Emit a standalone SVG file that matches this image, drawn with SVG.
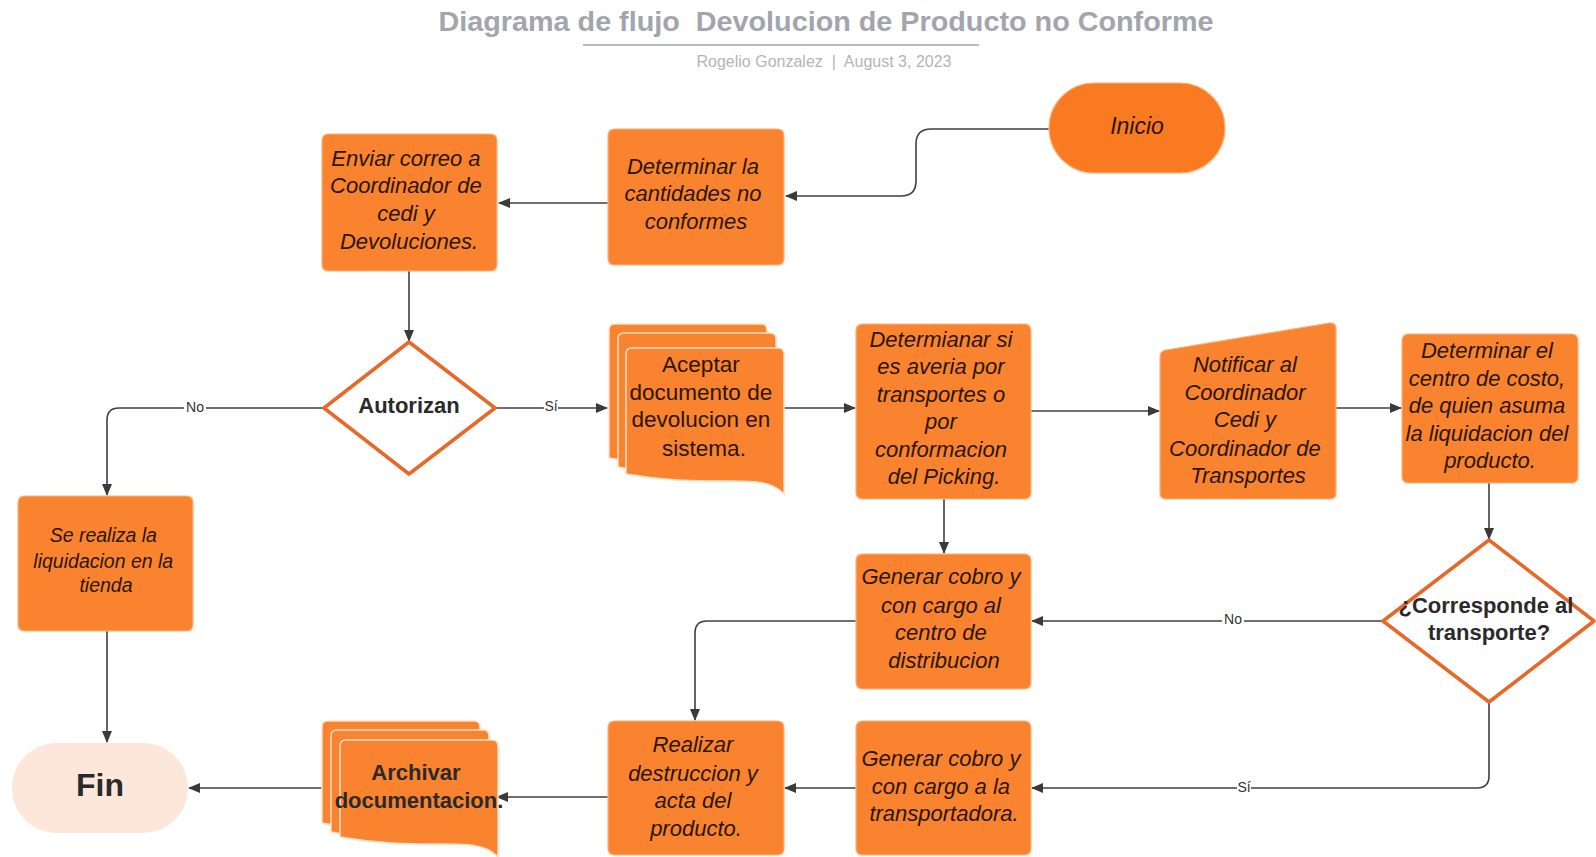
<svg xmlns="http://www.w3.org/2000/svg" width="1596" height="857" viewBox="0 0 1596 857">
  <defs>
    <marker id="arrow" markerWidth="12" markerHeight="10" refX="11" refY="5" orient="auto" markerUnits="userSpaceOnUse">
      <path d="M0,0 L12,5 L0,10 Z" fill="#3a3a3a"/>
    </marker>
    <style>
      .title { font-family: "Liberation Sans", Arial, sans-serif; font-weight: bold; font-size: 28px; fill: #a3a5ad; white-space: pre; }
      .sub { font-family: "Liberation Sans", Arial, sans-serif; font-size: 16px; fill: #b4b4b8; white-space: pre; }
      .box { fill: #f9832f; stroke: #fbb27c; stroke-width: 1.2; }
      .term { fill: #fa7a22; stroke: #fcb27e; stroke-width: 1.2; }
      .page { fill: #f9832f; stroke: #fde0c6; stroke-width: 1.5; }
      .dec { fill: #ffffff; stroke: #e8682a; stroke-width: 3.5; stroke-linejoin: round; }
      .it { font-family: "Liberation Sans", Arial, sans-serif; font-style: italic; font-size: 22px; fill: #2b1608; text-anchor: middle; dominant-baseline: central; }
      .it-s { font-size: 19.5px; }
      .rg { font-family: "Liberation Sans", Arial, sans-serif; font-size: 22.5px; fill: #2b1608; text-anchor: middle; dominant-baseline: central; }
      .bd { font-family: "Liberation Sans", Arial, sans-serif; font-weight: bold; font-size: 22px; fill: #2a2a2a; text-anchor: middle; dominant-baseline: central; }
      .conn { fill: none; stroke: #3f3f3f; stroke-width: 1.6; marker-end: url(#arrow); }
      .lbl { font-family: "Liberation Sans", Arial, sans-serif; font-size: 14px; fill: #333333; text-anchor: middle; dominant-baseline: central; }
      .lblbg { fill: #ffffff; }
    </style>
  </defs>

  <rect x="0" y="0" width="1596" height="857" fill="#ffffff"/>

  <!-- Heading -->
  <g id="heading">
    <text class="title" x="826" y="31" text-anchor="middle" xml:space="preserve" textLength="775" lengthAdjust="spacingAndGlyphs">Diagrama de flujo  Devolucion de Producto no Conforme</text>
    <line x1="583" y1="45" x2="979" y2="45" stroke="#b9babf" stroke-width="2"/>
    <text class="sub" x="824" y="67" text-anchor="middle" xml:space="preserve">Rogelio Gonzalez  |  August 3, 2023</text>
  </g>

  <!-- Connectors -->
  <g id="connectors">
    <path class="conn" d="M1049,129 H931 Q916,129 916,144 V181 Q916,196 901,196 H786"/>
    <path class="conn" d="M608,203 H499"/>
    <path class="conn" d="M409,271 V341"/>
    <path class="conn" d="M324,408 H119 Q107,408 107,420 V495"/>
    <path class="conn" d="M495,408 H607"/>
    <path class="conn" d="M784,408 H855"/>
    <path class="conn" d="M1031,411 H1159"/>
    <path class="conn" d="M1336,408 H1401"/>
    <path class="conn" d="M1489,483 V539"/>
    <path class="conn" d="M944,499 V553"/>
    <path class="conn" d="M1382,621 H1032"/>
    <path class="conn" d="M856,621 H707 Q695,621 695,633 V720"/>
    <path class="conn" d="M1489,702 V776 Q1489,788 1477,788 H1032"/>
    <path class="conn" d="M856,788 H785"/>
    <path class="conn" d="M608,797 H497"/>
    <path class="conn" d="M322,788 H189"/>
    <path class="conn" d="M107,631 V742"/>
    <!-- branch labels -->
    <rect class="lblbg" x="184" y="399" width="22" height="16"/>
    <text class="lbl" x="195" y="407">No</text>
    <rect class="lblbg" x="544" y="398" width="14" height="16"/>
    <text class="lbl" x="551" y="406">Sí</text>
    <rect class="lblbg" x="1222" y="611" width="22" height="16"/>
    <text class="lbl" x="1233" y="619">No</text>
    <rect class="lblbg" x="1237" y="779" width="14" height="16"/>
    <text class="lbl" x="1244" y="787">Sí</text>
  </g>

  <!-- Nodes -->
  <g id="inicio">
    <rect class="term" x="1049" y="83" width="176" height="90" rx="45"/>
    <text class="it" x="1137" y="126" style="font-size:23px">Inicio</text>
  </g>

  <g id="determinar-cantidades">
    <rect class="box" x="608" y="129" width="176" height="136" rx="6"/>
    <text class="it">
      <tspan x="696" y="166">Determinar la</tspan>
      <tspan x="696" y="193">cantidades no</tspan>
      <tspan x="696" y="221">conformes</tspan>
    </text>
  </g>

  <g id="enviar-correo">
    <rect class="box" x="322" y="134" width="175" height="137" rx="6"/>
    <text class="it">
      <tspan x="409" y="158">Enviar correo a</tspan>
      <tspan x="409" y="185">Coordinador de</tspan>
      <tspan x="409" y="213">cedi y</tspan>
      <tspan x="409" y="241">Devoluciones.</tspan>
    </text>
  </g>

  <g id="autorizan">
    <path class="dec" d="M409,342 L495,408 L409,474 L324,408 Z"/>
    <text class="bd" x="409" y="405">Autorizan</text>
  </g>

  <g id="aceptar-documento">
    <path class="page" d="M615,324 H761 Q767,324 767,330 V470 C745,452 700,476 609,458 V330 Q609,324 615,324 Z"/>
    <path class="page" d="M624,333 H770 Q776,333 776,339 V479 C754,461 709,485 618,467 V339 Q618,333 624,333 Z"/>
    <path class="page" d="M632,348 H778 Q784,348 784,354 V494 C762,470 717,490 626,474 V354 Q626,348 632,348 Z"/>
    <text class="rg">
      <tspan x="704" y="364">Aceptar</tspan>
      <tspan x="704" y="392">documento de</tspan>
      <tspan x="704" y="419">devolucion en</tspan>
      <tspan x="704" y="448">sistema.</tspan>
    </text>
  </g>

  <g id="determinar-averia">
    <rect class="box" x="856" y="324" width="175" height="175" rx="6"/>
    <text class="it">
      <tspan x="944" y="339">Determianar si</tspan>
      <tspan x="944" y="366">es averia por</tspan>
      <tspan x="944" y="394">transportes o</tspan>
      <tspan x="944" y="421">por</tspan>
      <tspan x="944" y="449">conformacion</tspan>
      <tspan x="944" y="476">del Picking.</tspan>
    </text>
  </g>

  <g id="notificar">
    <path class="box" d="M1160,356 Q1160,351 1166,350 L1329,323 Q1336,322 1336,329 V493 Q1336,499 1330,499 H1166 Q1160,499 1160,493 Z"/>
    <text class="it">
      <tspan x="1248" y="364">Notificar al</tspan>
      <tspan x="1248" y="392">Coordinador</tspan>
      <tspan x="1248" y="419">Cedi y</tspan>
      <tspan x="1248" y="448">Coordinador de</tspan>
      <tspan x="1248" y="475">Transportes</tspan>
    </text>
  </g>

  <g id="determinar-centro">
    <rect class="box" x="1402" y="334" width="176" height="149" rx="6"/>
    <text class="it">
      <tspan x="1490" y="350">Determinar el</tspan>
      <tspan x="1490" y="378">centro de costo,</tspan>
      <tspan x="1490" y="405">de quien asuma</tspan>
      <tspan x="1490" y="433">la liquidacion del</tspan>
      <tspan x="1490" y="460">producto.</tspan>
    </text>
  </g>

  <g id="corresponde">
    <path class="dec" d="M1489,540 L1594,621 L1489,702 L1383,621 Z"/>
    <text class="bd">
      <tspan x="1489" y="605">¿Corresponde al</tspan>
      <tspan x="1489" y="632">transporte?</tspan>
    </text>
  </g>

  <g id="cobro-cedi">
    <rect class="box" x="856" y="554" width="175" height="135" rx="6"/>
    <text class="it">
      <tspan x="944" y="576">Generar cobro y</tspan>
      <tspan x="944" y="605">con cargo al</tspan>
      <tspan x="944" y="632">centro de</tspan>
      <tspan x="944" y="660">distribucion</tspan>
    </text>
  </g>

  <g id="liquidacion-tienda">
    <rect class="box" x="18" y="496" width="175" height="135" rx="6"/>
    <text class="it it-s">
      <tspan x="106" y="535">Se realiza la</tspan>
      <tspan x="106" y="561">liquidacion en la</tspan>
      <tspan x="106" y="585">tienda</tspan>
    </text>
  </g>

  <g id="fin">
    <rect x="12" y="743" width="176" height="90" rx="45" fill="#fde7da"/>
    <text class="bd" x="100" y="785" style="font-size:32px">Fin</text>
  </g>

  <g id="archivar">
    <path class="page" d="M328,721 H474 Q480,721 480,727 V835 C458,817 413,841 322,823 V727 Q322,721 328,721 Z"/>
    <path class="page" d="M337,730 H483 Q489,730 489,736 V844 C467,826 422,850 331,832 V736 Q331,730 337,730 Z"/>
    <path class="page" d="M346,740 H492 Q498,740 498,746 V857 C476,833 431,853 340,837 V746 Q340,740 346,740 Z"/>
    <text class="bd">
      <tspan x="419" y="772">Archivar</tspan>
      <tspan x="419" y="800">documentacion.</tspan>
    </text>
  </g>

  <g id="destruccion">
    <rect class="box" x="608" y="721" width="176" height="134" rx="6"/>
    <text class="it">
      <tspan x="696" y="744">Realizar</tspan>
      <tspan x="696" y="773">destruccion y</tspan>
      <tspan x="696" y="800">acta del</tspan>
      <tspan x="696" y="828">producto.</tspan>
    </text>
  </g>

  <g id="cobro-transportadora">
    <rect class="box" x="856" y="721" width="175" height="134" rx="6"/>
    <text class="it">
      <tspan x="944" y="758">Generar cobro y</tspan>
      <tspan x="944" y="786">con cargo a la</tspan>
      <tspan x="944" y="813">transportadora.</tspan>
    </text>
  </g>
</svg>
